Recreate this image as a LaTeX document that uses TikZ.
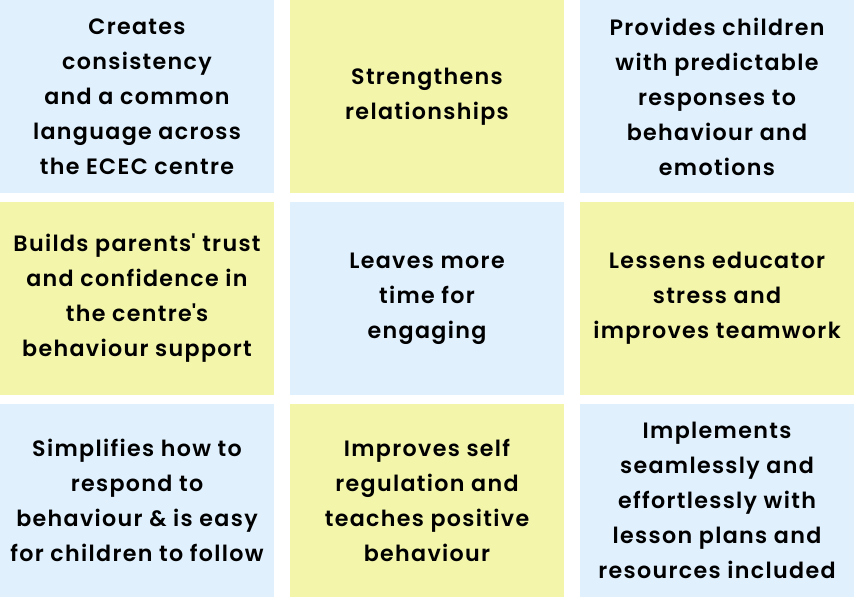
\documentclass[tikz,border=0pt]{standalone}
\usepackage{fontspec}
\setmainfont{Poppins}[BoldFont={Poppins SemiBold}, LetterSpace=6]
\definecolor{cellblue}{RGB}{224,240,252}
\definecolor{cellyellow}{RGB}{243,245,171}

\begin{document}
\begin{tikzpicture}[x = 1pt, y = -1pt]
\tikzstyle{CellStyle}=[shape = rectangle,
                       minimum width = 274pt,
                       minimum height = 193pt,
                       inner sep = 0pt,
                       align = center,
                       font = \fontsize{22.2}{35}\selectfont\bfseries]
\tikzstyle{BlueCell}=[CellStyle, fill = cellblue]
\tikzstyle{YellowCell}=[CellStyle, fill = cellyellow]
\useasboundingbox (0,0) rectangle (854,597);
% top row
\node[BlueCell] (consistency) at (137, 96.5) {Creates\\consistency\\and a common\\language across\\the ECEC centre};
\node[YellowCell] (relations) at (427, 96.5) {Strengthens\\relationships};
\node[BlueCell] (predictable) at (717, 96.5) {Provides children\\with predictable\\responses to\\behaviour and\\emotions};
% middle row
\node[YellowCell] (trust) at (137, 298.5) {Builds parents\textquotesingle{} trust\\and confidence in\\the centre\textquotesingle s\\behaviour support};
\node[BlueCell] (time) at (427, 298.5) {Leaves more\\time for\\engaging};
\node[YellowCell] (stress) at (717, 298.5) {Lessens educator\\stress and\\improves teamwork};
% bottom row
\node[BlueCell] (simplifies) at (137, 500) {Simplifies how to\\respond to\\behaviour \& is easy\\for children to follow};
\node[YellowCell] (regulation) at (427, 500) {Improves self\\regulation and\\teaches positive\\behaviour};
\node[BlueCell] (implements) at (717, 500) {Implements\\seamlessly and\\effortlessly with\\lesson plans and\\resources included};
\end{tikzpicture}
\end{document}
